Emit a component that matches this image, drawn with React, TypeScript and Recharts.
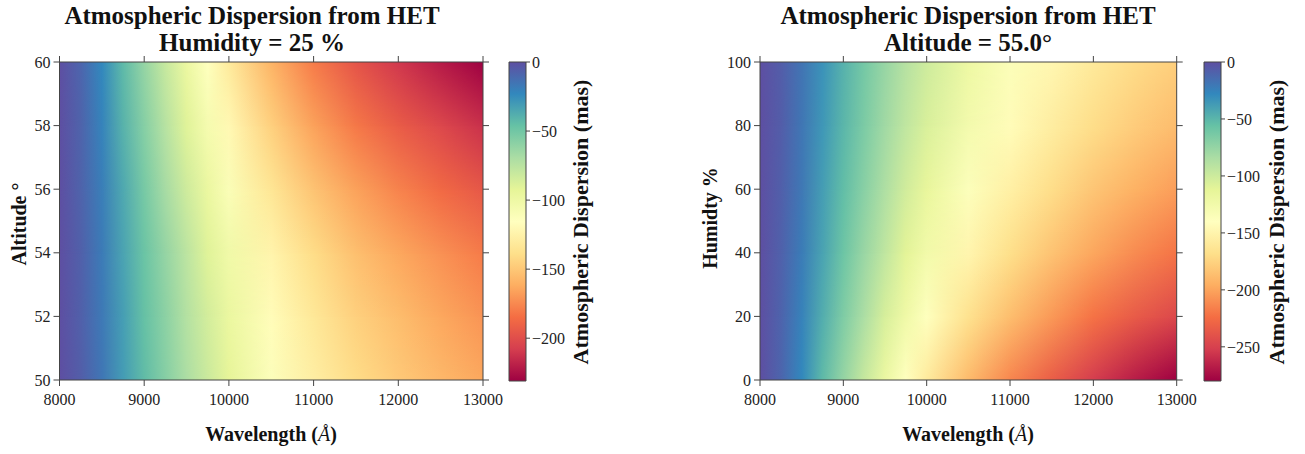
import React from 'react';
import { ComposedChart, XAxis, YAxis, ReferenceArea } from 'recharts';

// wavelength samples (Angstrom) shared by every row of both maps
const WAVELENGTHS = [8000, 8250, 8500, 8750, 9000, 9250, 9500, 9750, 10000, 10500, 11000, 11500, 12000, 12500, 13000];

// left map: humidity 25 %, one row per altitude (mas)
const ALTITUDES = [50, 52, 54, 56, 58, 60];
const ALT_50 = [0, -6, -16, -31, -44, -57, -70, -82, -93, -113, -128, -140, -149, -157, -164];
const ALT_52 = [0, -7, -17, -32, -46, -59, -73, -85, -97, -118, -133, -146, -155, -164, -171];
const ALT_54 = [0, -7, -18, -34, -48, -62, -76, -90, -102, -124, -140, -154, -164, -172, -180];
const ALT_56 = [0, -8, -19, -36, -52, -68, -83, -97, -111, -134, -152, -166, -177, -187, -195];
const ALT_58 = [0, -8, -21, -40, -57, -74, -90, -106, -121, -146, -166, -181, -193, -203, -213];
const ALT_60 = [0, -9, -23, -43, -62, -80, -98, -115, -131, -159, -180, -197, -210, -221, -231];

// right map: altitude 55.0 deg, one row per humidity (mas)
const HUMIDITIES = [0, 20, 40, 60, 80, 100];
const HUM_0 = [0, -11, -28, -52, -75, -97, -119, -140, -158, -189, -213, -233, -252, -267, -280];
const HUM_20 = [0, -10, -25, -46, -66, -85, -105, -123, -139, -166, -187, -205, -222, -235, -246];
const HUM_40 = [0, -9, -22, -41, -59, -77, -94, -111, -125, -149, -168, -184, -199, -211, -221];
const HUM_60 = [0, -8, -20, -38, -54, -70, -86, -102, -115, -137, -154, -169, -183, -194, -203];
const HUM_80 = [0, -7, -19, -35, -50, -65, -80, -94, -106, -127, -143, -156, -169, -179, -188];
const HUM_100 = [0, -7, -18, -33, -48, -62, -76, -89, -100, -120, -135, -148, -160, -170, -178];

const WAVE_TICKS = [8000, 9000, 10000, 11000, 12000, 13000];
const ALT_TICKS = [50, 52, 54, 56, 58, 60];
const HUM_TICKS = [0, 20, 40, 60, 80, 100];
const CB_TICKS_ALT = [0, -50, -100, -150, -200];
const CB_TICKS_HUM = [0, -50, -100, -150, -200, -250];

const SPECTRAL = ['#9e0142', '#d53e4f', '#f46d43', '#fdae61', '#fee08b', '#ffffbf', '#e6f598', '#abdda4', '#66c2a5', '#3288bd', '#5e4fa2'];

const FONT = '"Liberation Serif", "DejaVu Serif", serif';
const INK = '#222';
const FRAME = '#444';

const hexToRgb = (h: string) => [1, 3, 5].map((i) => parseInt(h.slice(i, i + 2), 16));

function spectral(t: number) {
  const c = Math.max(0, Math.min(1, t)) * 10;
  const i = Math.min(9, Math.floor(c));
  const f = c - i;
  const a = hexToRgb(SPECTRAL[i]);
  const b = hexToRgb(SPECTRAL[i + 1]);
  const m = a.map((v, k) => Math.round(v + (b[k] - v) * f));
  return `rgb(${m[0]},${m[1]},${m[2]})`;
}

const fmtMinus = (v: number) => (v < 0 ? `\u2212${Math.abs(v)}` : String(v));
const tickStyle = { fontFamily: FONT, fontSize: 16, fill: INK };
const noLabel = () => <g />;

interface PanelProps {
  id: string;
  left: number;
  plotLeft: number;
  plotRight: number;
  ys: number[];
  yTicks: number[];
}

function Heatmap({ id, left, plotLeft, plotRight, ys, yTicks }: PanelProps) {
  const width = 540;
  const yAxisW = 50;
  const mLeft = plotLeft - left - yAxisW;
  const mRight = left + width - plotRight - 1;
  const data = WAVELENGTHS.map((w, k) => ({ w, y: ys[Math.min(k, ys.length - 1)] }));
  const yDomain = [ys[0], ys[ys.length - 1]];
  const x1 = WAVELENGTHS[0];
  const x2 = WAVELENGTHS[WAVELENGTHS.length - 1];
  const bands = [];
  for (let i = 0; i < ys.length - 1; i++) {
    // overlap each band one pixel into the band below to hide seams
    const grow = i > 0 ? 1 : 0;
    bands.push(
      <ReferenceArea
        key={`b${i}`}
        x1={x1}
        x2={x2}
        y1={ys[i]}
        y2={ys[i + 1]}
        fillOpacity={1}
        stroke="none"
        shape={(p: any) => (
          <rect x={p.x} y={p.y} width={p.width} height={p.height + grow} fill={`url(#${id}-r${i})`} />
        )}
      />,
      <ReferenceArea
        key={`o${i}`}
        x1={x1}
        x2={x2}
        y1={ys[i]}
        y2={ys[i + 1]}
        fillOpacity={1}
        stroke="none"
        shape={(p: any) => (
          <rect
            x={p.x}
            y={p.y}
            width={p.width}
            height={p.height + grow}
            fill={`url(#${id}-r${i + 1})`}
            mask="url(#fade-up)"
          />
        )}
      />
    );
  }
  return (
    <div style={{ position: 'absolute', left, top: 0 }}>
      <ComposedChart width={width} height={454} data={data} margin={{ top: 61, right: mRight, bottom: 44, left: mLeft }}>
        {bands}
        <XAxis
          dataKey="w"
          type="number"
          domain={[x1, x2]}
          ticks={WAVE_TICKS}
          interval={0}
          height={30}
          tick={tickStyle}
          tickSize={6}
          tickMargin={8}
          stroke={FRAME}
          allowDataOverflow
        />
        <XAxis xAxisId="top" dataKey="w" orientation="top" type="number" domain={[x1, x2]} ticks={WAVE_TICKS} interval={0} height={1} tick={noLabel} tickSize={6} stroke={FRAME} allowDataOverflow />
        <YAxis
          dataKey="y"
          type="number"
          domain={yDomain}
          ticks={yTicks}
          interval={0}
          width={yAxisW}
          tick={tickStyle}
          tickSize={6}
          tickMargin={3}
          stroke={FRAME}
          allowDataOverflow
        />
        <YAxis yAxisId="right" dataKey="y" orientation="right" type="number" domain={yDomain} ticks={yTicks} interval={0} width={1} tick={noLabel} tickSize={6} stroke={FRAME} allowDataOverflow />
      </ComposedChart>
    </div>
  );
}

function Colorbar({ id, left, vmin, ticks }: { id: string; left: number; vmin: number; ticks: number[] }) {
  const data = [{ x: 0, v: vmin }, { x: 1, v: 0 }];
  return (
    <div style={{ position: 'absolute', left, top: 0 }}>
      <ComposedChart width={90} height={454} data={data} margin={{ top: 62, right: 0, bottom: 73, left: 8 }}>
        <XAxis dataKey="x" type="number" domain={[0, 1]} hide />
        <YAxis
          dataKey="v"
          type="number"
          orientation="right"
          domain={[vmin, 0]}
          ticks={ticks}
          interval={0}
          width={65}
          tick={tickStyle}
          tickFormatter={fmtMinus}
          tickSize={4}
          tickMargin={2}
          axisLine={false}
          stroke={FRAME}
          allowDataOverflow
        />
        <ReferenceArea x1={0} x2={1} y1={vmin} y2={0} fill={`url(#${id})`} fillOpacity={1} stroke={FRAME} strokeWidth={1} />
      </ComposedChart>
    </div>
  );
}

function RowGradients({ id, rows, vmin }: { id: string; rows: number[][]; vmin: number }) {
  const w0 = WAVELENGTHS[0];
  const span = WAVELENGTHS[WAVELENGTHS.length - 1] - w0;
  return (
    <>
      {rows.map((row, r) => (
        <linearGradient key={r} id={`${id}-r${r}`} x1="0" y1="0" x2="1" y2="0">
          {row.map((v, k) => (
            <stop key={k} offset={(WAVELENGTHS[k] - w0) / span} stopColor={spectral((v - vmin) / -vmin)} />
          ))}
        </linearGradient>
      ))}
    </>
  );
}

export default function App() {
  const altRows = [ALT_50, ALT_52, ALT_54, ALT_56, ALT_58, ALT_60];
  const humRows = [HUM_0, HUM_20, HUM_40, HUM_60, HUM_80, HUM_100];
  const altMin = Math.min(...altRows.flat());
  const humMin = Math.min(...humRows.flat());

  const title = { fontFamily: FONT, fontWeight: 'bold' as const, fontSize: 25, fill: '#111', textAnchor: 'middle' as const };
  const label = { fontFamily: FONT, fontWeight: 'bold' as const, fontSize: 20, fill: '#111', textAnchor: 'middle' as const };
  const cbLabel = { ...label, fontSize: 22 };

  return (
    <div style={{ position: 'absolute', left: 0, top: 0, width: 1305, height: 454, background: '#fff', overflow: 'hidden' }}>
      <svg width={0} height={0} style={{ position: 'absolute' }}>
        <defs>
          <RowGradients id="alt" rows={altRows} vmin={altMin} />
          <RowGradients id="hum" rows={humRows} vmin={humMin} />
          <linearGradient id="fade-grad" x1="0" y1="0" x2="0" y2="1">
            <stop offset={0} stopColor="#fff" />
            <stop offset={1} stopColor="#000" />
          </linearGradient>
          <mask id="fade-up" maskContentUnits="objectBoundingBox">
            <rect x={0} y={0} width={1} height={1} fill="url(#fade-grad)" />
          </mask>
          {['cb-alt', 'cb-hum'].map((cid) => (
            <linearGradient key={cid} id={cid} x1="0" y1="0" x2="0" y2="1">
              {SPECTRAL.map((c, k) => (
                <stop key={k} offset={k / 10} stopColor={SPECTRAL[10 - k]} />
              ))}
            </linearGradient>
          ))}
        </defs>
      </svg>

      <Heatmap id="alt" left={0} plotLeft={59.5} plotRight={483} ys={ALTITUDES} yTicks={ALT_TICKS} />
      <Colorbar id="cb-alt" left={501} vmin={altMin} ticks={CB_TICKS_ALT} />
      <Heatmap id="hum" left={700} plotLeft={760} plotRight={1176.7} ys={HUMIDITIES} yTicks={HUM_TICKS} />
      <Colorbar id="cb-hum" left={1195.5} vmin={humMin} ticks={CB_TICKS_HUM} />

      <svg width={1305} height={454} style={{ position: 'absolute', left: 0, top: 0, pointerEvents: 'none' }}>
        <text x={252} y={24} {...title}>Atmospheric Dispersion from HET</text>
        <text x={252} y={51} {...title}>Humidity = 25 %</text>
        <text x={968} y={24} {...title}>Atmospheric Dispersion from HET</text>
        <text x={968} y={51} {...title}>Altitude = 55.0°</text>

        <text x={271} y={441} {...label}>
          Wavelength (<tspan fontStyle="italic" fontWeight="normal">Å</tspan>)
        </text>
        <text x={968} y={441} {...label}>
          Wavelength (<tspan fontStyle="italic" fontWeight="normal">Å</tspan>)
        </text>
        <text transform="translate(26,224) rotate(-90)" {...label}>Altitude °</text>
        <text transform="translate(717,218) rotate(-90)" {...label}>Humidty %</text>
        <text transform="translate(588,222) rotate(-90)" {...cbLabel}>Atmospheric Dispersion (mas)</text>
        <text transform="translate(1284,222) rotate(-90)" {...cbLabel}>Atmospheric Dispersion (mas)</text>
      </svg>
    </div>
  );
}
